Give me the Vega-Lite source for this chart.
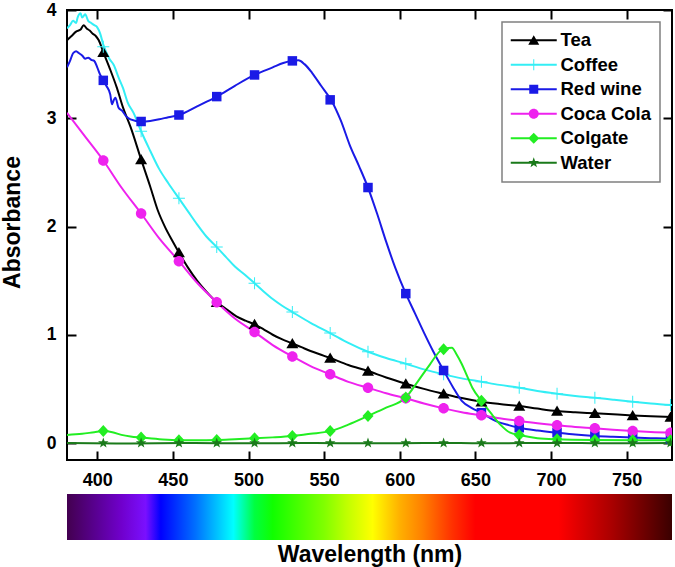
{
  "$schema": "https://vega.github.io/schema/vega-lite/v6.json",
  "padding": {"left": 0, "top": 0, "right": 3, "bottom": 0},
  "bounds": "flush",
  "spacing": 34,
  "config": {"view": {"stroke": null}, "font": "Liberation Sans"},
  "datasets": {
    "lines": [
      {"s":"Tea","w":380,"a":3.72},{"s":"Tea","w":383,"a":3.76},{"s":"Tea","w":386,"a":3.8},{"s":"Tea","w":389,"a":3.82},{"s":"Tea","w":391,"a":3.86},{"s":"Tea","w":393,"a":3.83},{"s":"Tea","w":395,"a":3.81},{"s":"Tea","w":397,"a":3.78},{"s":"Tea","w":399,"a":3.76},{"s":"Tea","w":401,"a":3.72},{"s":"Tea","w":404,"a":3.61},{"s":"Tea","w":408,"a":3.47},{"s":"Tea","w":413,"a":3.28},{"s":"Tea","w":417,"a":3.1},{"s":"Tea","w":422,"a":2.92},{"s":"Tea","w":429,"a":2.62},{"s":"Tea","w":435,"a":2.37},{"s":"Tea","w":440,"a":2.15},{"s":"Tea","w":445,"a":1.99},{"s":"Tea","w":450,"a":1.86},{"s":"Tea","w":454,"a":1.76},{"s":"Tea","w":460,"a":1.62},{"s":"Tea","w":466,"a":1.5},{"s":"Tea","w":472,"a":1.4},{"s":"Tea","w":479,"a":1.3},{"s":"Tea","w":485,"a":1.24},{"s":"Tea","w":492,"a":1.17},{"s":"Tea","w":498,"a":1.13},{"s":"Tea","w":504,"a":1.096},{"s":"Tea","w":510,"a":1.05},{"s":"Tea","w":516,"a":1.0},{"s":"Tea","w":522,"a":0.96},{"s":"Tea","w":529,"a":0.92},{"s":"Tea","w":535,"a":0.885},{"s":"Tea","w":541,"a":0.85},{"s":"Tea","w":548,"a":0.815},{"s":"Tea","w":554,"a":0.785},{"s":"Tea","w":566,"a":0.72},{"s":"Tea","w":579,"a":0.665},{"s":"Tea","w":591,"a":0.605},{"s":"Tea","w":604,"a":0.548},{"s":"Tea","w":616,"a":0.5},{"s":"Tea","w":629,"a":0.455},{"s":"Tea","w":641,"a":0.415},{"s":"Tea","w":654,"a":0.381},{"s":"Tea","w":666,"a":0.36},{"s":"Tea","w":679,"a":0.342},{"s":"Tea","w":691,"a":0.318},{"s":"Tea","w":704,"a":0.295},{"s":"Tea","w":716,"a":0.284},{"s":"Tea","w":729,"a":0.274},{"s":"Tea","w":741,"a":0.265},{"s":"Tea","w":754,"a":0.255},{"s":"Tea","w":766,"a":0.247},{"s":"Tea","w":780,"a":0.24},
      {"s":"Coffee","w":380,"a":3.83},{"s":"Coffee","w":382,"a":3.86},{"s":"Coffee","w":384,"a":3.9},{"s":"Coffee","w":386,"a":3.88},{"s":"Coffee","w":387,"a":3.93},{"s":"Coffee","w":389,"a":3.97},{"s":"Coffee","w":390,"a":3.93},{"s":"Coffee","w":392,"a":3.96},{"s":"Coffee","w":394,"a":3.9},{"s":"Coffee","w":396,"a":3.88},{"s":"Coffee","w":398,"a":3.86},{"s":"Coffee","w":400,"a":3.84},{"s":"Coffee","w":402,"a":3.78},{"s":"Coffee","w":404,"a":3.68},{"s":"Coffee","w":408,"a":3.55},{"s":"Coffee","w":411,"a":3.49},{"s":"Coffee","w":414,"a":3.38},{"s":"Coffee","w":417,"a":3.28},{"s":"Coffee","w":420,"a":3.15},{"s":"Coffee","w":424,"a":3.05},{"s":"Coffee","w":429,"a":2.88},{"s":"Coffee","w":435,"a":2.7},{"s":"Coffee","w":441,"a":2.53},{"s":"Coffee","w":447,"a":2.4},{"s":"Coffee","w":454,"a":2.26},{"s":"Coffee","w":460,"a":2.14},{"s":"Coffee","w":466,"a":2.02},{"s":"Coffee","w":472,"a":1.91},{"s":"Coffee","w":479,"a":1.81},{"s":"Coffee","w":485,"a":1.72},{"s":"Coffee","w":491,"a":1.63},{"s":"Coffee","w":498,"a":1.55},{"s":"Coffee","w":504,"a":1.475},{"s":"Coffee","w":510,"a":1.4},{"s":"Coffee","w":516,"a":1.33},{"s":"Coffee","w":522,"a":1.27},{"s":"Coffee","w":529,"a":1.21},{"s":"Coffee","w":541,"a":1.11},{"s":"Coffee","w":554,"a":1.016},{"s":"Coffee","w":566,"a":0.925},{"s":"Coffee","w":579,"a":0.843},{"s":"Coffee","w":591,"a":0.785},{"s":"Coffee","w":604,"a":0.732},{"s":"Coffee","w":616,"a":0.68},{"s":"Coffee","w":629,"a":0.634},{"s":"Coffee","w":641,"a":0.597},{"s":"Coffee","w":654,"a":0.566},{"s":"Coffee","w":666,"a":0.537},{"s":"Coffee","w":679,"a":0.51},{"s":"Coffee","w":691,"a":0.48},{"s":"Coffee","w":704,"a":0.455},{"s":"Coffee","w":716,"a":0.435},{"s":"Coffee","w":729,"a":0.418},{"s":"Coffee","w":741,"a":0.4},{"s":"Coffee","w":754,"a":0.381},{"s":"Coffee","w":766,"a":0.365},{"s":"Coffee","w":780,"a":0.35},
      {"s":"Red wine","w":380,"a":3.47},{"s":"Red wine","w":382,"a":3.53},{"s":"Red wine","w":384,"a":3.6},{"s":"Red wine","w":386,"a":3.62},{"s":"Red wine","w":388,"a":3.6},{"s":"Red wine","w":390,"a":3.58},{"s":"Red wine","w":392,"a":3.55},{"s":"Red wine","w":394,"a":3.56},{"s":"Red wine","w":396,"a":3.54},{"s":"Red wine","w":398,"a":3.53},{"s":"Red wine","w":400,"a":3.47},{"s":"Red wine","w":402,"a":3.4},{"s":"Red wine","w":404,"a":3.35},{"s":"Red wine","w":406,"a":3.3},{"s":"Red wine","w":408.6,"a":3.22},{"s":"Red wine","w":409.7,"a":3.13},{"s":"Red wine","w":411,"a":3.17},{"s":"Red wine","w":412,"a":3.19},{"s":"Red wine","w":414,"a":3.1},{"s":"Red wine","w":416.4,"a":3.07},{"s":"Red wine","w":419,"a":3.02},{"s":"Red wine","w":422,"a":2.99},{"s":"Red wine","w":429,"a":2.97},{"s":"Red wine","w":435,"a":2.975},{"s":"Red wine","w":441,"a":2.99},{"s":"Red wine","w":447,"a":3.01},{"s":"Red wine","w":454,"a":3.03},{"s":"Red wine","w":466,"a":3.11},{"s":"Red wine","w":479,"a":3.2},{"s":"Red wine","w":491,"a":3.3},{"s":"Red wine","w":504,"a":3.4},{"s":"Red wine","w":516,"a":3.47},{"s":"Red wine","w":523,"a":3.51},{"s":"Red wine","w":529,"a":3.53},{"s":"Red wine","w":533,"a":3.535},{"s":"Red wine","w":537,"a":3.5},{"s":"Red wine","w":542,"a":3.42},{"s":"Red wine","w":548,"a":3.3},{"s":"Red wine","w":555,"a":3.16},{"s":"Red wine","w":561,"a":2.98},{"s":"Red wine","w":567,"a":2.75},{"s":"Red wine","w":573,"a":2.56},{"s":"Red wine","w":579,"a":2.36},{"s":"Red wine","w":585,"a":2.12},{"s":"Red wine","w":591,"a":1.86},{"s":"Red wine","w":597,"a":1.62},{"s":"Red wine","w":604,"a":1.38},{"s":"Red wine","w":610,"a":1.2},{"s":"Red wine","w":616,"a":1.02},{"s":"Red wine","w":622,"a":0.85},{"s":"Red wine","w":629,"a":0.67},{"s":"Red wine","w":635,"a":0.52},{"s":"Red wine","w":641,"a":0.39},{"s":"Red wine","w":648,"a":0.32},{"s":"Red wine","w":654,"a":0.28},{"s":"Red wine","w":664,"a":0.2},{"s":"Red wine","w":672,"a":0.165},{"s":"Red wine","w":679,"a":0.141},{"s":"Red wine","w":691,"a":0.115},{"s":"Red wine","w":704,"a":0.095},{"s":"Red wine","w":716,"a":0.078},{"s":"Red wine","w":729,"a":0.065},{"s":"Red wine","w":741,"a":0.057},{"s":"Red wine","w":754,"a":0.05},{"s":"Red wine","w":766,"a":0.045},{"s":"Red wine","w":780,"a":0.04},
      {"s":"Coca Cola","w":380,"a":3.05},{"s":"Coca Cola","w":392,"a":2.83},{"s":"Coca Cola","w":404,"a":2.61},{"s":"Coca Cola","w":416,"a":2.36},{"s":"Coca Cola","w":429,"a":2.12},{"s":"Coca Cola","w":441,"a":1.89},{"s":"Coca Cola","w":454,"a":1.68},{"s":"Coca Cola","w":466,"a":1.48},{"s":"Coca Cola","w":479,"a":1.3},{"s":"Coca Cola","w":491,"a":1.15},{"s":"Coca Cola","w":504,"a":1.025},{"s":"Coca Cola","w":516,"a":0.905},{"s":"Coca Cola","w":529,"a":0.8},{"s":"Coca Cola","w":541,"a":0.71},{"s":"Coca Cola","w":554,"a":0.634},{"s":"Coca Cola","w":566,"a":0.565},{"s":"Coca Cola","w":579,"a":0.51},{"s":"Coca Cola","w":591,"a":0.46},{"s":"Coca Cola","w":604,"a":0.413},{"s":"Coca Cola","w":616,"a":0.365},{"s":"Coca Cola","w":629,"a":0.32},{"s":"Coca Cola","w":641,"a":0.285},{"s":"Coca Cola","w":654,"a":0.256},{"s":"Coca Cola","w":666,"a":0.228},{"s":"Coca Cola","w":679,"a":0.203},{"s":"Coca Cola","w":691,"a":0.182},{"s":"Coca Cola","w":704,"a":0.163},{"s":"Coca Cola","w":716,"a":0.148},{"s":"Coca Cola","w":729,"a":0.136},{"s":"Coca Cola","w":741,"a":0.123},{"s":"Coca Cola","w":754,"a":0.111},{"s":"Coca Cola","w":766,"a":0.102},{"s":"Coca Cola","w":780,"a":0.095},
      {"s":"Colgate","w":380,"a":0.075},{"s":"Colgate","w":390,"a":0.085},{"s":"Colgate","w":398,"a":0.1},{"s":"Colgate","w":404,"a":0.11},{"s":"Colgate","w":410,"a":0.1},{"s":"Colgate","w":416,"a":0.075},{"s":"Colgate","w":422,"a":0.06},{"s":"Colgate","w":429,"a":0.05},{"s":"Colgate","w":441,"a":0.035},{"s":"Colgate","w":454,"a":0.025},{"s":"Colgate","w":466,"a":0.025},{"s":"Colgate","w":479,"a":0.028},{"s":"Colgate","w":491,"a":0.035},{"s":"Colgate","w":504,"a":0.043},{"s":"Colgate","w":516,"a":0.052},{"s":"Colgate","w":529,"a":0.065},{"s":"Colgate","w":541,"a":0.085},{"s":"Colgate","w":554,"a":0.11},{"s":"Colgate","w":566,"a":0.17},{"s":"Colgate","w":579,"a":0.25},{"s":"Colgate","w":591,"a":0.326},{"s":"Colgate","w":604,"a":0.42},{"s":"Colgate","w":612,"a":0.57},{"s":"Colgate","w":620,"a":0.727},{"s":"Colgate","w":626.8,"a":0.85},{"s":"Colgate","w":629,"a":0.865},{"s":"Colgate","w":632,"a":0.878},{"s":"Colgate","w":634.5,"a":0.88},{"s":"Colgate","w":637.5,"a":0.82},{"s":"Colgate","w":641,"a":0.73},{"s":"Colgate","w":644.5,"a":0.62},{"s":"Colgate","w":648,"a":0.51},{"s":"Colgate","w":654,"a":0.39},{"s":"Colgate","w":660,"a":0.28},{"s":"Colgate","w":666.5,"a":0.17},{"s":"Colgate","w":673,"a":0.095},{"s":"Colgate","w":679,"a":0.074},{"s":"Colgate","w":691,"a":0.045},{"s":"Colgate","w":704,"a":0.034},{"s":"Colgate","w":729,"a":0.027},{"s":"Colgate","w":754,"a":0.025},{"s":"Colgate","w":780,"a":0.025},
      {"s":"Water","w":380,"a":0.0},{"s":"Water","w":420,"a":-0.004},{"s":"Water","w":460,"a":0.0},{"s":"Water","w":500,"a":-0.003},{"s":"Water","w":540,"a":0.0},{"s":"Water","w":580,"a":-0.003},{"s":"Water","w":620,"a":0.0},{"s":"Water","w":660,"a":-0.002},{"s":"Water","w":700,"a":0.0},{"s":"Water","w":740,"a":-0.002},{"s":"Water","w":780,"a":0.0}
    ],
    "marks": [
      {"s":"Tea","w":404,"a":3.61},{"s":"Tea","w":429,"a":2.62},{"s":"Tea","w":454,"a":1.76},{"s":"Tea","w":479,"a":1.3},{"s":"Tea","w":504,"a":1.096},{"s":"Tea","w":529,"a":0.92},{"s":"Tea","w":554,"a":0.785},{"s":"Tea","w":579,"a":0.665},{"s":"Tea","w":604,"a":0.548},{"s":"Tea","w":629,"a":0.455},{"s":"Tea","w":654,"a":0.381},{"s":"Tea","w":679,"a":0.342},{"s":"Tea","w":704,"a":0.295},{"s":"Tea","w":729,"a":0.274},{"s":"Tea","w":754,"a":0.255},{"s":"Tea","w":779,"a":0.24},
      {"s":"Coffee","w":404,"a":3.66},{"s":"Coffee","w":429,"a":2.88},{"s":"Coffee","w":454,"a":2.26},{"s":"Coffee","w":479,"a":1.81},{"s":"Coffee","w":504,"a":1.475},{"s":"Coffee","w":529,"a":1.21},{"s":"Coffee","w":554,"a":1.016},{"s":"Coffee","w":579,"a":0.843},{"s":"Coffee","w":604,"a":0.732},{"s":"Coffee","w":629,"a":0.634},{"s":"Coffee","w":654,"a":0.566},{"s":"Coffee","w":679,"a":0.51},{"s":"Coffee","w":704,"a":0.455},{"s":"Coffee","w":729,"a":0.418},{"s":"Coffee","w":754,"a":0.381},{"s":"Coffee","w":779,"a":0.352},
      {"s":"Red wine","w":404,"a":3.35},{"s":"Red wine","w":429,"a":2.97},{"s":"Red wine","w":454,"a":3.03},{"s":"Red wine","w":479,"a":3.2},{"s":"Red wine","w":504,"a":3.4},{"s":"Red wine","w":529,"a":3.53},{"s":"Red wine","w":554,"a":3.17},{"s":"Red wine","w":579,"a":2.36},{"s":"Red wine","w":604,"a":1.38},{"s":"Red wine","w":629,"a":0.67},{"s":"Red wine","w":654,"a":0.28},{"s":"Red wine","w":679,"a":0.141},{"s":"Red wine","w":704,"a":0.095},{"s":"Red wine","w":729,"a":0.065},{"s":"Red wine","w":754,"a":0.05},{"s":"Red wine","w":779,"a":0.04},
      {"s":"Coca Cola","w":404,"a":2.61},{"s":"Coca Cola","w":429,"a":2.12},{"s":"Coca Cola","w":454,"a":1.68},{"s":"Coca Cola","w":479,"a":1.3},{"s":"Coca Cola","w":504,"a":1.025},{"s":"Coca Cola","w":529,"a":0.8},{"s":"Coca Cola","w":554,"a":0.634},{"s":"Coca Cola","w":579,"a":0.51},{"s":"Coca Cola","w":604,"a":0.413},{"s":"Coca Cola","w":629,"a":0.32},{"s":"Coca Cola","w":654,"a":0.256},{"s":"Coca Cola","w":679,"a":0.203},{"s":"Coca Cola","w":704,"a":0.163},{"s":"Coca Cola","w":729,"a":0.136},{"s":"Coca Cola","w":754,"a":0.111},{"s":"Coca Cola","w":779,"a":0.095},
      {"s":"Colgate","w":404,"a":0.11},{"s":"Colgate","w":429,"a":0.05},{"s":"Colgate","w":454,"a":0.025},{"s":"Colgate","w":479,"a":0.028},{"s":"Colgate","w":504,"a":0.043},{"s":"Colgate","w":529,"a":0.065},{"s":"Colgate","w":554,"a":0.11},{"s":"Colgate","w":579,"a":0.25},{"s":"Colgate","w":604,"a":0.42},{"s":"Colgate","w":629,"a":0.865},{"s":"Colgate","w":654,"a":0.39},{"s":"Colgate","w":679,"a":0.074},{"s":"Colgate","w":704,"a":0.034},{"s":"Colgate","w":729,"a":0.027},{"s":"Colgate","w":754,"a":0.025},{"s":"Colgate","w":779,"a":0.025},
      {"s":"Water","w":404,"a":0.0},{"s":"Water","w":429,"a":0.0},{"s":"Water","w":454,"a":0.0},{"s":"Water","w":479,"a":0.0},{"s":"Water","w":504,"a":0.0},{"s":"Water","w":529,"a":0.0},{"s":"Water","w":554,"a":0.0},{"s":"Water","w":579,"a":0.0},{"s":"Water","w":604,"a":0.0},{"s":"Water","w":629,"a":0.0},{"s":"Water","w":654,"a":0.0},{"s":"Water","w":679,"a":0.0},{"s":"Water","w":704,"a":0.0},{"s":"Water","w":729,"a":0.0},{"s":"Water","w":754,"a":0.0},{"s":"Water","w":779,"a":0.0}
    ],
    "band": [{"from": 380, "to": 780}]
  },
  "vconcat": [
    {
      "width": 605,
      "height": 450,
      "view": {"stroke": "black", "strokeWidth": 2},
      "layer": [
        {
          "data": {"name": "lines"},
          "mark": {"type": "line", "interpolate": "monotone", "strokeWidth": 2, "clip": true},
          "encoding": {
            "x": {"field": "w", "type": "quantitative", "scale": {"domain": [380, 780], "nice": false, "zero": false},
              "axis": {"orient": "bottom", "title": null, "values": [400,450,500,550,600,650,700,750], "format": "d", "grid": false, "domain": false, "tickSize": -9, "tickWidth": 2, "tickColor": "black", "labelPadding": 20, "labelFont": "Liberation Sans", "labelFontSize": 18, "labelFontWeight": "bold", "labelColor": "black", "labelFlush": false}},
            "y": {"field": "a", "type": "quantitative", "scale": {"domain": [-0.157, 4], "nice": false, "zero": false},
              "axis": {"orient": "left", "title": "Absorbance", "values": [0,1,2,3,4], "format": "d", "grid": false, "domain": false, "tickSize": -9, "tickWidth": 2, "tickColor": "black", "labelPadding": 20, "labelFont": "Liberation Sans", "labelFontSize": 17.5, "labelFontWeight": "bold", "labelColor": "black", "labelFlush": false, "titleFont": "Liberation Sans", "titleFontSize": 23, "titleFontWeight": "bold", "titleColor": "black", "titlePadding": 22, "titleY": 212}},
            "color": {"field": "s", "type": "nominal",
              "scale": {"domain": ["Tea","Coffee","Red wine","Coca Cola","Colgate","Water"], "range": ["#000000","#33eef5","#1a1ae6","#ee22ee","#22ee22","#1a7a1a"]},
              "legend": {"title": null, "orient": "top-right", "offset": 12, "padding": 9, "strokeColor": "#808080", "fillColor": "white", "labelFont": "Liberation Sans", "labelFontSize": 18.5, "labelFontWeight": "bold", "labelColor": "black", "labelOffset": 31, "rowPadding": 5.5, "symbolSize": 100, "labelLimit": 300,
                "encode": {
                  "symbols": {"update": {
                    "shape": {"signal": "datum.value == 'Tea' ? 'M-1.9,-0.2H7.3V0.2H-1.9ZM2.7,-1L3.8,0.9L1.6,0.9Z' : datum.value == 'Coffee' ? 'M-1.9,-0.2H7.3V0.2H-1.9ZM2.6,-1.1H2.8V1.1H2.6Z' : datum.value == 'Red wine' ? 'M-1.9,-0.2H7.3V0.2H-1.9ZM1.8,-0.9H3.6V0.9H1.8Z' : datum.value == 'Coca Cola' ? 'M-1.9,-0.2H7.3V0.2H-1.9ZM1.7,0A1,1 0 1,1 3.7,0A1,1 0 1,1 1.7,0Z' : datum.value == 'Colgate' ? 'M-1.9,-0.2H7.3V0.2H-1.9ZM2.7,-1.1L3.8,0L2.7,1.1L1.6,0Z' : 'M-1.9,-0.2H7.3V0.2H-1.9ZM2.7,-1.1L2.96,-0.36L3.75,-0.34L3.13,0.14L3.35,0.89L2.7,0.45L2.05,0.89L2.27,0.14L1.65,-0.34L2.44,-0.36Z'"},
                    "fill": {"signal": "datum.value == 'Tea' ? '#000000' : datum.value == 'Coffee' ? '#33eef5' : datum.value == 'Red wine' ? '#1a1ae6' : datum.value == 'Coca Cola' ? '#ee22ee' : datum.value == 'Colgate' ? '#22ee22' : '#1a7a1a'"},
                    "strokeWidth": {"value": 0},
                    "opacity": {"value": 1},
                    "size": {"value": 100}
                  }},
                  "legend": {"update": {"strokeWidth": {"value": 1.5}}}
                }}}
          }
        },
        {
          "data": {"name": "marks"},
          "transform": [{"filter": "datum.s == 'Tea'"}],
          "mark": {"type": "point", "filled": true, "size": 100, "opacity": 1, "strokeWidth": 0, "clip": true, "color": "#000000", "shape": "M0,-1.1L1.2,0.95L-1.2,0.95Z"},
          "encoding": {
            "x": {"field": "w", "type": "quantitative", "axis": null},
            "y": {"field": "a", "type": "quantitative", "axis": null}
          }
        },
        {
          "data": {"name": "marks"},
          "transform": [{"filter": "datum.s == 'Coffee'"}],
          "mark": {"type": "point", "filled": true, "size": 100, "opacity": 1, "strokeWidth": 0, "clip": true, "color": "#33eef5", "shape": "M-1.2,-0.1H1.2V0.1H-1.2ZM-0.1,-1.2H0.1V1.2H-0.1Z"},
          "encoding": {
            "x": {"field": "w", "type": "quantitative", "axis": null},
            "y": {"field": "a", "type": "quantitative", "axis": null}
          }
        },
        {
          "data": {"name": "marks"},
          "transform": [{"filter": "datum.s == 'Red wine'"}],
          "mark": {"type": "point", "filled": true, "size": 100, "opacity": 1, "strokeWidth": 0, "clip": true, "color": "#1a1ae6", "shape": "M-0.95,-0.95H0.95V0.95H-0.95Z"},
          "encoding": {
            "x": {"field": "w", "type": "quantitative", "axis": null},
            "y": {"field": "a", "type": "quantitative", "axis": null}
          }
        },
        {
          "data": {"name": "marks"},
          "transform": [{"filter": "datum.s == 'Coca Cola'"}],
          "mark": {"type": "point", "filled": true, "size": 100, "opacity": 1, "strokeWidth": 0, "clip": true, "color": "#ee22ee", "shape": "M-1.05,0A1.05,1.05 0 1,1 1.05,0A1.05,1.05 0 1,1 -1.05,0Z"},
          "encoding": {
            "x": {"field": "w", "type": "quantitative", "axis": null},
            "y": {"field": "a", "type": "quantitative", "axis": null}
          }
        },
        {
          "data": {"name": "marks"},
          "transform": [{"filter": "datum.s == 'Colgate'"}],
          "mark": {"type": "point", "filled": true, "size": 100, "opacity": 1, "strokeWidth": 0, "clip": true, "color": "#22ee22", "shape": "M0,-1.2L1.1,0L0,1.2L-1.1,0Z"},
          "encoding": {
            "x": {"field": "w", "type": "quantitative", "axis": null},
            "y": {"field": "a", "type": "quantitative", "axis": null}
          }
        },
        {
          "data": {"name": "marks"},
          "transform": [{"filter": "datum.s == 'Water'"}],
          "mark": {"type": "point", "filled": true, "size": 100, "opacity": 1, "strokeWidth": 0, "clip": true, "color": "#1a7a1a", "shape": "M0,-1.1L0.26,-0.36L1.05,-0.34L0.43,0.14L0.65,0.89L0,0.45L-0.65,0.89L-0.43,0.14L-1.05,-0.34L-0.26,-0.36Z"},
          "encoding": {
            "x": {"field": "w", "type": "quantitative", "axis": null},
            "y": {"field": "a", "type": "quantitative", "axis": null}
          }
        },
        {
          "data": {"name": "marks"},
          "mark": {"type": "point", "opacity": 0},
          "encoding": {
            "x": {"field": "w", "type": "quantitative",
              "axis": {"orient": "top", "title": null, "labels": false, "values": [400,450,500,550,600,650,700,750], "grid": false, "domain": false, "tickSize": -9, "tickWidth": 2, "tickColor": "black"}},
            "y": {"field": "a", "type": "quantitative",
              "axis": {"orient": "right", "title": null, "labels": false, "values": [0,1,2,3,4], "grid": false, "domain": false, "tickSize": -9, "tickWidth": 2, "tickColor": "black"}}
          }
        }
      ],
      "resolve": {"axis": {"x": "independent", "y": "independent"}}
    },
    {
      "width": 605,
      "height": 46,
      "data": {"name": "band"},
      "mark": {"type": "rect", "fill": {"gradient": "linear", "x1": 0, "y1": 0, "x2": 1, "y2": 0,
        "stops": [
          {"offset": 0, "color": "#43004f"},
          {"offset": 0.05, "color": "#5a0095"},
          {"offset": 0.09, "color": "#7000cc"},
          {"offset": 0.13, "color": "#7a10ff"},
          {"offset": 0.155, "color": "#0000ff"},
          {"offset": 0.2125, "color": "#0070ff"},
          {"offset": 0.275, "color": "#00ffff"},
          {"offset": 0.31, "color": "#00ff40"},
          {"offset": 0.34, "color": "#10ff00"},
          {"offset": 0.425, "color": "#80ff00"},
          {"offset": 0.4625, "color": "#c0ff00"},
          {"offset": 0.505, "color": "#ffff00"},
          {"offset": 0.55, "color": "#ffb000"},
          {"offset": 0.5875, "color": "#ff8000"},
          {"offset": 0.6375, "color": "#ff3000"},
          {"offset": 0.675, "color": "#ff0000"},
          {"offset": 0.8125, "color": "#ff0000"},
          {"offset": 0.9, "color": "#aa0000"},
          {"offset": 1, "color": "#3a0000"}
        ]}},
      "encoding": {
        "x": {"field": "from", "type": "quantitative", "scale": {"domain": [380, 780], "nice": false, "zero": false},
          "axis": {"orient": "bottom", "title": "Wavelength (nm)", "labels": false, "ticks": false, "domain": false, "grid": false, "titleFont": "Liberation Sans", "titleFontSize": 23, "titleFontWeight": "bold", "titleColor": "black", "titlePadding": 3.5}},
        "x2": {"field": "to"}
      }
    }
  ],
  "resolve": {"scale": {"x": "independent"}}
}
